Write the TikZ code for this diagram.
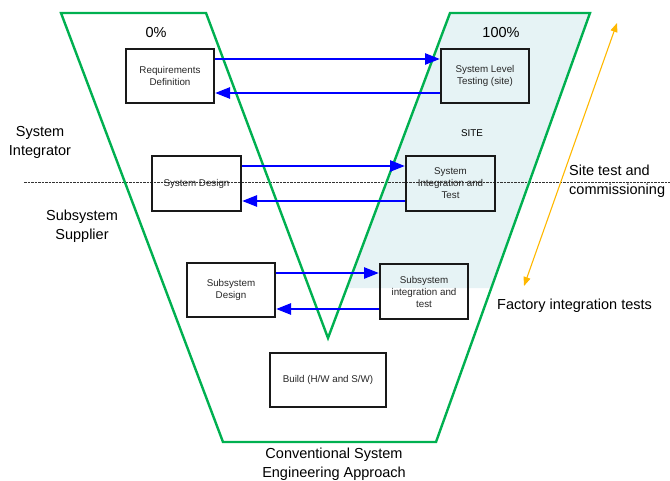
\documentclass[tikz,border=0pt]{standalone}
\usepackage{fontspec}
\setmainfont{Liberation Sans}
\usetikzlibrary{arrows.meta}
\definecolor{vgreen}{HTML}{00B050}
\definecolor{sitefill}{HTML}{E6F3F5}
\definecolor{amber}{HTML}{FFB800}
\tikzset{
  stagebox/.style={draw=black!90, line width=2pt, inner sep=1pt, align=center,
    font=\fontsize{9.8}{12}\selectfont, text=black!85},
  bigtext/.style={font=\fontsize{14.5}{18.5}\selectfont, align=center, inner sep=0pt},
  blinearrow/.style={draw=blue, line width=2.6pt, -{Triangle[length=15pt,width=11pt]}},
}
\begin{document}
\begin{tikzpicture}[x=1pt,y=-1pt]
\useasboundingbox (0,0) rectangle (670,480);
% site fill
\fill[sitefill] (450,13) -- (590,13) -- (491.3,288) -- (346.8,288) -- cycle;
% dashed divider
\coordinate (dl) at (24,182);
\coordinate (dr) at (670,182);
\draw[dashed, dash pattern=on 2.5pt off 1pt, line width=0.7pt, black!80] (dl) -- (dr);
% V outline
\draw[vgreen, line width=2.4pt, line join=miter]
  (61,13) -- (206,13) -- (328,338) -- (450,13) -- (590,13) -- (436,442) -- (223,442) -- cycle;
% boxes
\node[stagebox, minimum width=88pt, minimum height=54pt] (req) at (170,76) {Requirements\\Definition};
\node[stagebox, minimum width=88pt, minimum height=54pt] (slt) at (485,76) {System Level\\Testing (site)};
\node[stagebox, minimum width=89pt, minimum height=55pt] (sd) at (196.5,183.5) {System Design};
\node[stagebox, minimum width=89pt, minimum height=55pt] (sit) at (450.5,183.5) {System\\Integration and\\Test};
\node[stagebox, minimum width=88pt, minimum height=54pt] (ssd) at (231,290) {Subsystem\\Design};
\node[stagebox, minimum width=88pt, minimum height=55pt] (ssit) at (424,291.5) {Subsystem\\integration and\\test};
\node[stagebox, minimum width=116pt, minimum height=54pt] (build) at (328,380) {Build (H/W and S/W)};
% arrows
\draw[blinearrow] (req.east |- 0,59) -- (slt.west |- 0,59);
\draw[blinearrow] (slt.west |- 0,93) -- (req.east |- 0,93);
\draw[blinearrow] (sd.east |- 0,166) -- (sit.west |- 0,166);
\draw[blinearrow] (sit.west |- 0,201) -- (sd.east |- 0,201);
\draw[blinearrow] (ssd.east |- 0,273) -- (ssit.west |- 0,273);
\draw[blinearrow] (ssit.west |- 0,309) -- (ssd.east |- 0,309);
% orange double arrow
\coordinate (oa) at (617,23);
\coordinate (ob) at (524,286);
\draw[amber, line width=1.1pt, {Triangle[length=9pt,width=7pt]}-{Triangle[length=9pt,width=7pt]}] (oa) -- (ob);
% labels
\node[bigtext] (p0) at (156,33) {0\%};
\node[bigtext] (p100) at (501,33) {100\%};
\node[font=\fontsize{9.8}{12}\selectfont, inner sep=0pt] (site) at (472,133) {SITE};
\node[bigtext] (si) at (40,142.5) {System\\Integrator};
\node[bigtext] (ss) at (82,226) {Subsystem\\Supplier};
\node[bigtext, align=left, anchor=west] (stc) at (569,181) {Site test and\\commissioning};
\node[bigtext, anchor=west] (fit) at (497,306) {Factory integration tests};
\node[bigtext] (cse) at (334,464) {Conventional System\\Engineering Approach};
\end{tikzpicture}
\end{document}
